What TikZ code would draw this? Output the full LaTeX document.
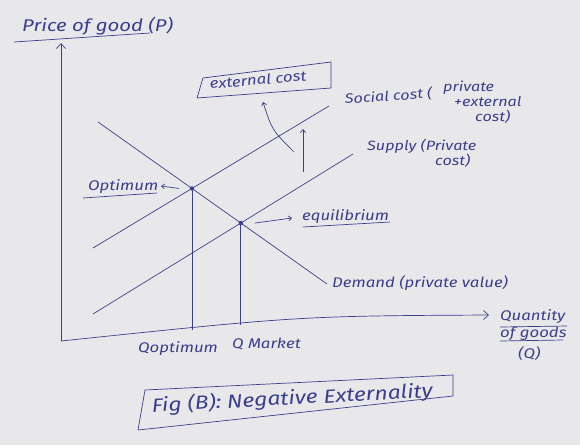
\documentclass[tikz,border=0pt]{standalone}
\usepackage{fontspec}
\setmainfont{Fira Sans}[FakeStretch=1.2]
\usetikzlibrary{arrows.meta}
\definecolor{ink}{HTML}{3B3E8C}
\definecolor{paper}{HTML}{E8E8EA}
\begin{document}
\begin{tikzpicture}[x=1pt,y=-1pt,
  inkline/.style={draw=ink, line width=0.7pt},
  lbl/.style={text=ink, font=\itshape\fontsize{14}{15}\selectfont, inner sep=0pt, anchor=base west},
  sidelbl/.style={lbl, font=\itshape\fontsize{13.5}{15}\selectfont},
  stacklbl/.style={sidelbl, anchor=north west, align=left},
  biglbl/.style={lbl, font=\itshape\fontsize{17}{18}\selectfont},
  figlbl/.style={lbl, font=\itshape\fontsize{19}{20}\selectfont},
  tip/.style={-{Straight Barb[length=5pt,width=9pt]}},
  smalltip/.style={-{Straight Barb[length=3pt,width=5pt]}}
]
\fill[paper] (0,0) rectangle (580,445);
\useasboundingbox (0,0) rectangle (580,445);

% axes
\coordinate (O) at (61,341);
\coordinate (ytop) at (61,43);
\coordinate (xend) at (489,315);
\draw[inkline, tip] (O) -- (ytop);
\draw[inkline, tip] (O) .. controls (300,316) .. (xend);

% curves
\coordinate (d1) at (98,122);  \coordinate (d2) at (327,284);
\coordinate (sc1) at (93,248); \coordinate (sc2) at (329,106);
\coordinate (s1) at (93,314);  \coordinate (s2) at (353,154);
\draw[inkline] (d1) -- (d2);
\draw[inkline] (sc1) -- (sc2);
\draw[inkline] (s1) -- (s2);
\coordinate (opt) at (intersection of d1--d2 and sc1--sc2);
\coordinate (eq) at (intersection of d1--d2 and s1--s2);
\coordinate (qo) at (0,329.5);
\coordinate (qm) at (0,325);
\draw[inkline] (opt) -- (opt |- qo);
\draw[inkline] (eq) -- (eq |- qm);
\fill[ink] (opt) circle (2.2pt);
\fill[ink] (eq) circle (2.2pt);

% y label
\node[biglbl] (plabel) at (22,31) {Price of good (P)};
\draw[inkline] (14,42) -- (150,33);

% x label
\node[lbl] (qa) at (500,320) {Quantity};
\draw[inkline] (500,327) -- (567,326);
\node[lbl] (qb) at (500,337) {of goods};
\draw[inkline] (500,341) -- (563,340);
\node[lbl] (qc) at (518,358) {(Q)};

% Optimum
\node[lbl] (optl) at (88,190) {Optimum};
\draw[inkline] (83,198) -- (157,193);
\coordinate (oa) at ([xshift=-13pt]opt);
\coordinate (ob) at (161,186);
\draw[inkline, smalltip] (oa) -- (ob);

% equilibrium
\node[lbl] (eql) at (302,220) {equilibrium};
\draw[inkline] (303,227) -- (390,222);
\coordinate (ea) at ([xshift=14pt]eq);
\coordinate (eb) at (292,218);
\draw[inkline, smalltip] (ea) -- (eb);

% demand label
\node[lbl] (dl) at (332,287) {Demand (private value)};

% Q labels
\node[lbl] (qopt) at (138,352) {Qoptimum};
\node[lbl] (qmk) at (232,348) {Q Market};

% social cost label
\node[sidelbl, rotate=4] (sca) at (345,104) {Social cost (};
\node[stacklbl] (scb) at (443,81) {private\\\hspace*{11pt}+external\\\hspace*{32pt}cost)};

% supply label
\node[stacklbl] (sl) at (367,139) {Supply (Private\\\hspace*{68pt}cost)};

% external cost box
\node[lbl, rotate=5] (ext) at (210,89) {external cost};
\draw[inkline] (197,98) -- (203,78) -- (331,62) -- (331,88) -- (197,98);
\coordinate (ca) at (294,152);
\coordinate (cb) at (263,102);
\draw[inkline, smalltip] (ca) .. controls (272,130) .. (cb);
\coordinate (ua) at (303,172);
\coordinate (ub) at (303,129);
\draw[inkline, smalltip] (ua) -- (ub);

% figure caption
\node[figlbl, rotate=3] (fig) at (152,412) {Fig (B): Negative Externality};
\draw[inkline] (138,430) -- (145,390) -- (453,375) -- (453,396) -- (138,430);
\end{tikzpicture}
\end{document}
